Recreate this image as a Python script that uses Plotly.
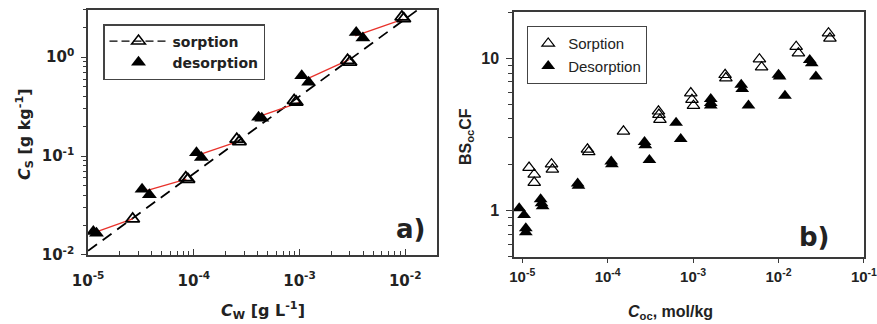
import plotly.graph_objects as go

# ---------------- Panel a data ----------------
sorp_a_x = [2.64e-5, 8.4e-5, 8.8e-5, 2.55e-4, 2.7e-4, 8.9e-4, 9.3e-4, 2.85e-3, 3.0e-3, 9.3e-3, 9.7e-3]
sorp_a_y = [0.0231, 0.0605, 0.058, 0.148, 0.140, 0.365, 0.352, 0.93, 0.89, 2.55, 2.45]

desorp_a_x = [1.12e-5, 1.2e-5, 3.24e-5, 3.8e-5, 1.06e-4, 1.18e-4, 4.1e-4, 4.4e-4, 1.05e-3, 1.22e-3, 3.44e-3, 3.98e-3]
desorp_a_y = [0.0172, 0.0166, 0.046, 0.0405, 0.108, 0.0966, 0.247, 0.241, 0.647, 0.558, 1.78, 1.56]

red_x = [1.16e-5, 2.64e-5, None, 3.5e-5, 8.5e-5, None, 1.06e-4, 2.6e-4, None,
         4.1e-4, 1.02e-3, None, 1.18e-3, 2.92e-3, None, 3.37e-3, 9.6e-3]
red_y = [0.0169, 0.0231, None, 0.0445, 0.0583, None, 0.101, 0.140, None,
         0.251, 0.351, None, 0.604, 0.94, None, 1.64, 2.43]

fit_x = [1e-5, 1.31e-2]
fit_y = [0.011, 3.0]

a_xticks = [1e-5, 1e-4, 1e-3, 1e-2]
a_xticktext = ["10<sup>-5</sup>", "10<sup>-4</sup>", "10<sup>-3</sup>", "10<sup>-2</sup>"]
a_yticks = [1e-2, 1e-1, 1e0]
a_yticktext = ["10<sup>-2</sup>", "10<sup>-1</sup>", "10<sup>0</sup>"]

# ---------------- Panel b data ----------------
sorp_b_x = [1.2e-5, 1.38e-5, 1.38e-5, 2.2e-5, 2.25e-5, 5.8e-5, 6.0e-5, 1.53e-4, 3.93e-4, 3.98e-4, 4.09e-4,
            9.4e-4, 9.7e-4, 1.01e-3, 2.37e-3, 2.42e-3, 5.98e-3, 6.34e-3, 0.0161, 0.0171, 0.0385, 0.0400]
sorp_b_y = [1.92, 1.73, 1.53, 2.02, 1.87, 2.53, 2.43, 3.32, 4.49, 4.27, 3.96,
            5.91, 5.35, 4.89, 7.79, 7.41, 9.85, 8.74, 11.9, 10.8, 14.6, 13.5]

desorp_b_x = [9.2e-6, 1.05e-5, 1.1e-5, 1.1e-5, 1.64e-5, 1.68e-5, 1.73e-5, 4.45e-5, 4.55e-5, 1.1e-4, 1.12e-4,
              2.7e-4, 2.76e-4, 3.08e-4, 6.32e-4, 7.16e-4, 1.61e-3, 1.61e-3, 1.61e-3, 3.66e-3, 3.76e-3,
              4.45e-3, 0.0100, 0.0103, 0.0119, 0.0232, 0.0245, 0.0274]
desorp_b_y = [1.04, 0.94, 0.767, 0.722, 1.19, 1.12, 1.07, 1.51, 1.46, 2.10, 2.02,
              2.82, 2.69, 2.15, 3.77, 2.96, 5.40, 5.09, 4.89, 6.70, 6.28,
              4.89, 7.79, 7.6, 5.68, 9.75, 9.28, 7.59]

b_xticks = [1e-5, 1e-4, 1e-3, 1e-2, 1e-1]
b_xticktext = ["10<sup>-5</sup>", "10<sup>-4</sup>", "10<sup>-3</sup>", "10<sup>-2</sup>", "10<sup>-1</sup>"]
b_yticks = [1, 10]
b_yticktext = ["1", "10"]


def minor_vals(e0, e1):
    return [m * 10.0 ** e for e in range(e0, e1) for m in range(2, 10)]


W, H = 877, 324
FA = "DejaVu Sans"
FB = "Liberation Sans, Arial"
TXT = "#222222"
FRAME = "#3a3a3a"

fig = go.Figure()

# Panel a traces
fig.add_trace(go.Scatter(x=fit_x, y=fit_y, mode="lines", xaxis="x", yaxis="y",
                         line=dict(color="black", width=1.8, dash="11px,7px"), showlegend=False))
fig.add_trace(go.Scatter(x=red_x, y=red_y, mode="lines", xaxis="x", yaxis="y",
                         line=dict(color="#e8322b", width=1.3), showlegend=False))
fig.add_trace(go.Scatter(x=sorp_a_x, y=sorp_a_y, mode="markers", xaxis="x", yaxis="y",
                         marker=dict(symbol="triangle-up-open", size=12, color="black",
                                     line=dict(width=1.8, color="black")), showlegend=False))
fig.add_trace(go.Scatter(x=desorp_a_x, y=desorp_a_y, mode="markers", xaxis="x", yaxis="y",
                         marker=dict(symbol="triangle-up", size=13, color="black"), showlegend=False))
# legend proxies for panel a
fig.add_trace(go.Scatter(x=[None], y=[None], mode="lines+markers", xaxis="x", yaxis="y",
                         name="sorption", legend="legend",
                         line=dict(color="black", width=1.3, dash="8px,4px"),
                         marker=dict(symbol="triangle-up-open", size=12, color="black",
                                     line=dict(width=1.5, color="black"))))
fig.add_trace(go.Scatter(x=[None], y=[None], mode="markers", xaxis="x", yaxis="y",
                         name="desorption", legend="legend",
                         marker=dict(symbol="triangle-up", size=13, color="black")))

# Panel b traces
fig.add_trace(go.Scatter(x=sorp_b_x, y=sorp_b_y, mode="markers", xaxis="x2", yaxis="y2",
                         name="Sorption", legend="legend2",
                         marker=dict(symbol="triangle-up-open", size=11, color="black",
                                     line=dict(width=1.2, color="black"))))
fig.add_trace(go.Scatter(x=desorp_b_x, y=desorp_b_y, mode="markers", xaxis="x2", yaxis="y2",
                         name="Desorption", legend="legend2",
                         marker=dict(symbol="triangle-up", size=12, color="black")))

axis_common = dict(type="log", showgrid=False, zeroline=False, showline=True, mirror=True,
                   linecolor=FRAME, linewidth=1.5, automargin=False, tickcolor=FRAME,
                   ticklabeloverflow="allow")

fig.update_layout(
    width=W, height=H,
    margin=dict(l=0, r=0, t=0, b=0),
    paper_bgcolor="white", plot_bgcolor="white",
    xaxis=dict(axis_common, domain=[88 / W, 437 / W], anchor="y",
               range=[-5.001, -1.699],
               tickmode="array", tickvals=a_xticks, ticktext=a_xticktext,
               ticks="inside", ticklen=6, tickwidth=1.2,
               minor=dict(tickmode="array", tickvals=minor_vals(-5, -1), ticks="inside",
                          ticklen=4, tickwidth=1, tickcolor=FRAME),
               tickfont=dict(family=FA, size=15, color=TXT, weight="bold"),
               ticklabelstandoff=11),
    yaxis=dict(axis_common, domain=[1 - 255 / H, 1 - 10 / H], anchor="x",
               range=[-2.001, 0.477],
               tickmode="array", tickvals=a_yticks, ticktext=a_yticktext,
               ticks="outside", ticklen=5, tickwidth=1.2,
               minor=dict(tickmode="array", tickvals=minor_vals(-2, 1), ticks="outside",
                          ticklen=3, tickwidth=1, tickcolor=FRAME),
               tickfont=dict(family=FA, size=15, color=TXT, weight="bold"),
               ticklabelstandoff=4),
    xaxis2=dict(axis_common, domain=[514 / W, 864 / W], anchor="y2",
                range=[-5.097, -0.999],
                tickmode="array", tickvals=b_xticks, ticktext=b_xticktext,
                ticks="outside", ticklen=5, tickwidth=1.2,
                tickfont=dict(family=FB, size=15, color=TXT, weight="bold"),
                ticklabelstandoff=1),
    yaxis2=dict(axis_common, domain=[1 - 256.7 / H, 1 - 12.3 / H], anchor="x2",
                range=[-0.301, 1.301],
                tickmode="array", tickvals=b_yticks, ticktext=b_yticktext,
                ticks="outside", ticklen=6, tickwidth=1.2,
                minor=dict(tickmode="array", tickvals=minor_vals(-1, 2), ticks="outside",
                           ticklen=4, tickwidth=1, tickcolor=FRAME),
                tickfont=dict(family=FB, size=16, color=TXT, weight="bold"),
                ticklabelstandoff=4),
    legend=dict(x=103 / W, y=1 - 24 / H, xanchor="left", yanchor="top",
                bordercolor="#444", borderwidth=1.5, bgcolor="white",
                font=dict(family=FA, size=14, color=TXT, weight="bold"),
                itemwidth=58, tracegroupgap=0),
    legend2=dict(x=527 / W, y=1 - 26 / H, xanchor="left", yanchor="top",
                 bordercolor="#444", borderwidth=1.2, bgcolor="white",
                 font=dict(family=FB, size=15, color=TXT),
                 tracegroupgap=0),
    showlegend=True,
)

annos = [
    dict(text="<i>C</i><sub>S</sub> [g kg<sup>-1</sup>]", x=24 / W, y=1 - 134 / H, textangle=-90,
         font=dict(family=FA, size=16, color=TXT, weight="bold")),
    dict(text="<i>C</i><sub>W</sub> [g L<sup>-1</sup>]", x=263 / W, y=1 - 310 / H,
         font=dict(family=FA, size=16, color=TXT, weight="bold")),
    dict(text="a)", x=410 / W, y=1 - 229 / H,
         font=dict(family=FA, size=26, color=TXT, weight="bold")),
    dict(text="BS<sub>oc</sub>CF", x=466 / W, y=1 - 137 / H, textangle=-90,
         font=dict(family=FB, size=16, color=TXT, weight="bold")),
    dict(text="<i>C</i><sub>oc</sub>, mol/kg", x=670 / W, y=1 - 312 / H,
         font=dict(family=FB, size=16, color=TXT, weight="bold")),
    dict(text="b)", x=814 / W, y=1 - 237 / H,
         font=dict(family=FA, size=26, color=TXT, weight="bold")),
]
for a in annos:
    fig.add_annotation(xref="paper", yref="paper", showarrow=False,
                       xanchor="center", yanchor="middle", **a)

fig.write_html("out.html")
